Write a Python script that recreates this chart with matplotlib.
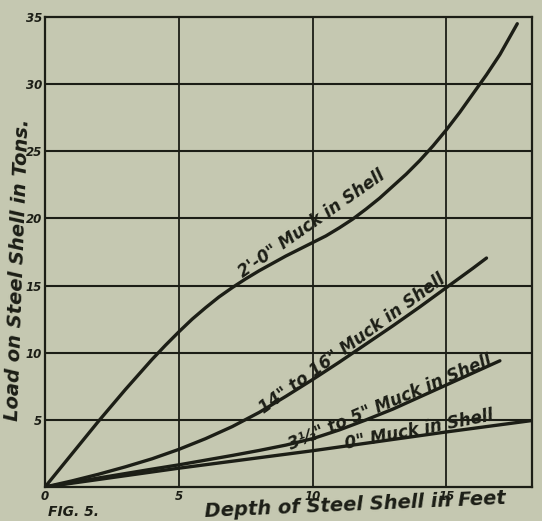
import matplotlib
matplotlib.use("Agg")
import matplotlib.pyplot as plt

# Depth of steel shell (ft) vs load on shell (tons) for four muck depths
depth_2ft = [0, 1, 2, 3, 4, 4.5, 5, 5.5, 6, 6.5, 7, 7.5, 8, 9, 10, 10.5, 11,
             11.5, 12, 12.5, 13, 13.5, 14, 14.5, 15, 15.5, 16, 16.5, 17, 17.65]
load_2ft = [0, 2.45, 4.9, 7.25, 9.5, 10.55, 11.55, 12.5, 13.35, 14.15, 14.85,
            15.5, 16.1, 17.2, 18.2, 18.7, 19.3, 19.95, 20.7, 21.5, 22.4, 23.3,
            24.3, 25.4, 26.6, 27.9, 29.3, 30.7, 32.2, 34.5]

depth_14in = [0, 1, 2, 3, 4, 5, 6, 7, 8, 9, 10, 11, 12, 13, 14, 15, 16, 16.5]
load_14in = [0, 0.45, 0.95, 1.5, 2.1, 2.8, 3.6, 4.5, 5.55, 6.75, 8.0, 9.3,
             10.65, 12.0, 13.4, 14.85, 16.3, 17.05]

depth_3in = [0, 1, 2, 3, 4, 5, 6, 7, 8, 9, 10, 11, 12, 13, 14, 15, 16, 17]
load_3in = [0, 0.33, 0.67, 1.0, 1.33, 1.65, 2.0, 2.35, 2.72, 3.12, 3.6, 4.25,
            5.0, 5.8, 6.7, 7.6, 8.5, 9.4]

depth_0in = [0, 5, 10, 15, 18.2]
load_0in = [0, 1.4, 2.7, 4.1, 4.95]

x_ticks = [0, 5, 10, 15]
x_tick_labels = ["0", "5", "10", "15"]
y_ticks = [5, 10, 15, 20, 25, 30, 35]
y_tick_labels = ["5", "10", "15", "20", "25", "30", "35"]

curve_labels = ['2\'-0" Muck in Shell', '14" to 16" Muck in Shell',
                '3½" to 5" Muck in Shell', '0" Muck in Shell']

paper = "#c5c8b1"
ink = "#1c1e16"
hand = dict(family="DejaVu Sans", style="italic", weight="bold", color=ink)

fig = plt.figure(figsize=(5.42, 5.21), dpi=100, facecolor=paper)
ax = fig.add_axes([45 / 542, 34 / 521, 487 / 542, 470 / 521], facecolor=paper)
ax.set_xlim(0, 18.2)
ax.set_ylim(0, 35)

# ruled grid
for gx in [5, 10, 15]:
    ax.axvline(gx, color=ink, lw=1.3, zorder=1)
for gy in [5, 10, 15, 20, 25, 30]:
    ax.axhline(gy, color=ink, lw=1.5, zorder=1)
for sp in ax.spines.values():
    sp.set_color(ink)
    sp.set_linewidth(1.6)

# load curves
for xs, ys in [(depth_2ft, load_2ft), (depth_14in, load_14in),
               (depth_3in, load_3in), (depth_0in, load_0in)]:
    ax.plot(xs, ys, color=ink, lw=2.4, solid_capstyle="round",
            solid_joinstyle="round", zorder=3)

# curve captions written along each line
label_spots = [(9.95, 19.6, 35), (11.5, 10.7, 36), (12.9, 6.3, 23), (14.0, 4.25, 11)]
for text, (lx, ly, rot) in zip(curve_labels, label_spots):
    ax.text(lx, ly, text, rotation=rot, rotation_mode="anchor",
            ha="center", va="center", fontsize=12, zorder=4, **hand)

ax.set_xticks(x_ticks)
ax.set_xticklabels(x_tick_labels)
ax.set_yticks(y_ticks)
ax.set_yticklabels(y_tick_labels)
ax.tick_params(length=0, pad=2, labelsize=8.5, colors=ink)
for lab in ax.get_xticklabels() + ax.get_yticklabels():
    lab.set_fontstyle("italic")
    lab.set_fontweight("bold")

fig.text(18 / 542, 1 - 270 / 521, "Load on Steel Shell in Tons.", rotation=88,
         ha="center", va="center", fontsize=14, **hand)
fig.text(355 / 542, 1 - 505 / 521, "Depth of Steel Shell in Feet", rotation=2.5,
         ha="center", va="center", fontsize=14, **hand)
fig.text(48 / 542, 1 - 505 / 521, "FIG. 5.", ha="left", va="top",
         fontsize=10, **hand)

fig.savefig("out.png", dpi=100, facecolor=paper)
